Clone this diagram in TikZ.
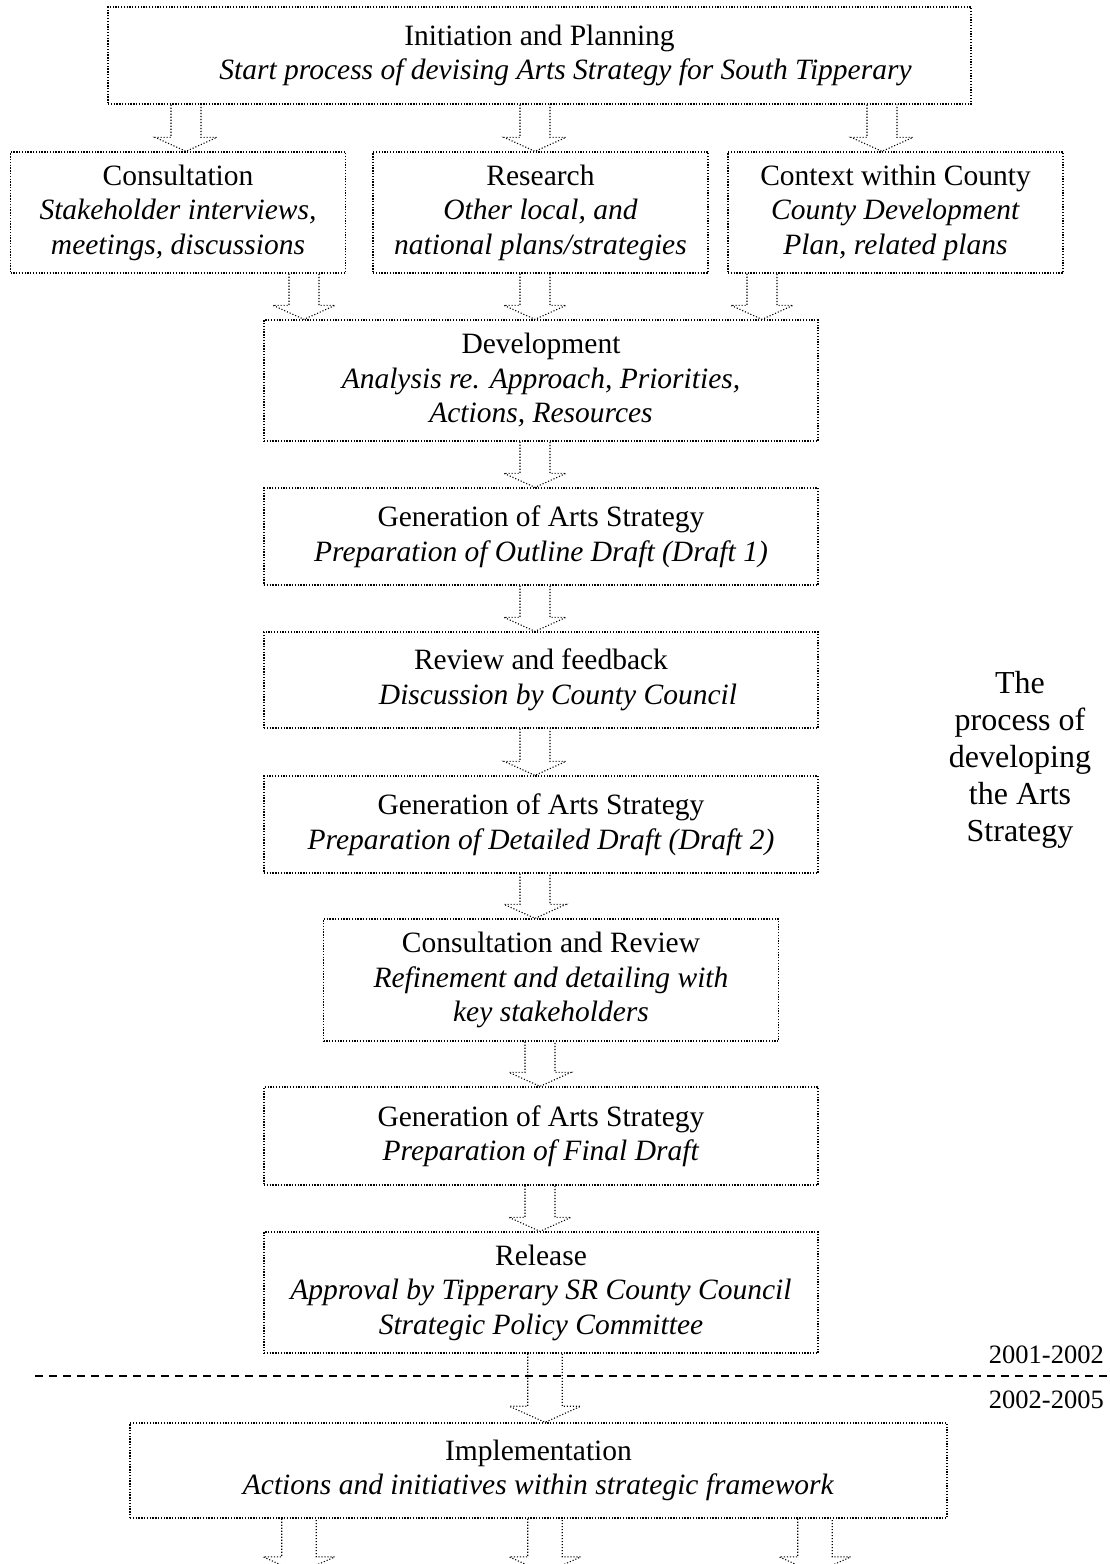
\documentclass[tikz,border=0pt]{standalone}
\usepackage{fontspec}
\setmainfont{Liberation Serif}
\usetikzlibrary{calc}
\tikzset{
  stage/.style={draw, line width=1.3pt, dash pattern=on 1.3pt off 1.5pt, align=center, inner sep=0pt, font=\fontsize{29.5}{34.5}\selectfont},
  arrowline/.style={line width=1.1pt, dash pattern=on 1.1pt off 1.9pt},
  separator/.style={line width=2pt, dash pattern=on 8pt off 6pt},
  yearlabel/.style={anchor=east, inner sep=0pt, font=\fontsize{26.5}{30}\selectfont},
  sidenote/.style={align=center, inner sep=0pt, font=\fontsize{32}{37}\selectfont}
}
\newcommand{\flowarrow}[4][1]{%
  \draw[arrowline] let \p1=(#3.south), \p2=(#4) in
    (#2pt-15pt*#1,\y1) -- (#2pt-15pt*#1,\y2+14pt*#1) -- (#2pt-31pt*#1,\y2+14pt*#1)
    -- (#2pt,\y2) -- (#2pt+31pt*#1,\y2+14pt*#1) -- (#2pt+15pt*#1,\y2+14pt*#1) -- (#2pt+15pt*#1,\y1);}
\begin{document}
\begin{tikzpicture}[x=1pt, y=-1pt]
\useasboundingbox (0,0) rectangle (1110,1564);
\node[stage, minimum width=863pt, minimum height=97pt] (init) at (539.5,55.5) {Initiation and Planning\\ \hspace*{52pt}\textit{Start process of devising Arts Strategy for South Tipperary}};
\node[stage, minimum width=335pt, minimum height=121pt] (cons) at (178,212.5) {Consultation\\ \textit{Stakeholder interviews,}\\ \textit{meetings, discussions}};
\node[stage, minimum width=335pt, minimum height=121pt] (res) at (540.5,212.5) {Research\\ \textit{Other local, and}\\ \textit{national plans/strategies}};
\node[stage, minimum width=335pt, minimum height=121pt] (ctx) at (895.5,212.5) {Context within County\\ \textit{County Development}\\ \textit{Plan, related plans}};
\node[stage, minimum width=554pt, minimum height=121pt] (dev) at (541,380.5) {Development\\ \textit{Analysis re. Approach, Priorities,}\\ \textit{Actions, Resources}};
\node[stage, minimum width=554pt, minimum height=97pt] (gen1) at (541,536.5) {Generation of Arts Strategy\\ \textit{Preparation of Outline Draft (Draft 1)}};
\node[stage, minimum width=554pt, minimum height=96pt] (rev) at (541,680) {Review and feedback\\ \hspace*{34pt}\textit{Discussion by County Council}};
\node[stage, minimum width=554pt, minimum height=97pt] (gen2) at (541,824.5) {Generation of Arts Strategy\\ \textit{Preparation of Detailed Draft (Draft 2)}};
\node[stage, minimum width=455pt, minimum height=122pt] (crev) at (551,980) {Consultation and Review\\ \textit{Refinement and detailing with}\\ \textit{key stakeholders}};
\node[stage, minimum width=554pt, minimum height=98pt] (gen3) at (541,1136) {Generation of Arts Strategy\\ \textit{Preparation of Final Draft}};
\node[stage, minimum width=554pt, minimum height=121pt] (rel) at (541,1292.5) {Release\\ \textit{Approval by Tipperary SR County Council}\\ \textit{Strategic Policy Committee}};
\node[stage, minimum width=817pt, minimum height=95pt] (impl) at (538.5,1470.5) {Implementation\\ \textit{Actions and initiatives within strategic framework}};
\node[sidenote] (note) at (1020,760) {The\\process of\\developing\\the Arts\\Strategy};
\node[yearlabel] (yr1) at (1104,1355) {2001-2002};
\node[yearlabel] (yr2) at (1104,1400) {2002-2005};
\coordinate (sepL) at (35,1375.5);
\coordinate (sepR) at (1110,1375.5);
\draw[separator] (sepL) -- (sepR);
\coordinate (out1) at (299,1573);
\coordinate (out2) at (545,1573);
\coordinate (out3) at (815,1573);
\flowarrow{186}{init}{cons.north}
\flowarrow{535}{init}{res.north}
\flowarrow{882}{init}{ctx.north}
\flowarrow{304}{cons}{dev.north}
\flowarrow{535}{res}{dev.north}
\flowarrow{762}{ctx}{dev.north}
\flowarrow{535}{dev}{gen1.north}
\flowarrow{535}{gen1}{rev.north}
\flowarrow{535}{rev}{gen2.north}
\flowarrow{535}{gen2}{crev.north}
\flowarrow{540}{crev}{gen3.north}
\flowarrow{540}{gen3}{rel.north}
\flowarrow[1.15]{545}{rel}{impl.north}
\flowarrow[1.15]{299}{impl}{out1}
\flowarrow[1.15]{545}{impl}{out2}
\flowarrow[1.15]{815}{impl}{out3}
\end{tikzpicture}
\end{document}
